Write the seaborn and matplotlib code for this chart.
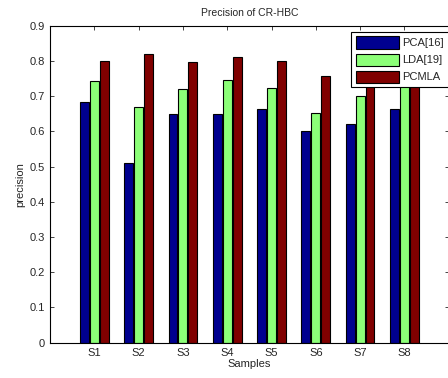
import pandas as pd
import numpy as np
import seaborn as sns
import matplotlib.pyplot as plt

samples = ['S1', 'S2', 'S3', 'S4', 'S5', 'S6', 'S7', 'S8']
pca = [0.682, 0.511, 0.650, 0.650, 0.664, 0.601, 0.622, 0.664]
lda = [0.743, 0.669, 0.721, 0.747, 0.722, 0.653, 0.700, 0.740]
pcmla = [0.800, 0.821, 0.797, 0.811, 0.800, 0.758, 0.780, 0.795]
methods = ['PCA[16]', 'LDA[19]', 'PCMLA']
colors = ['#00008F', '#8CFF78', '#800000']

data = pd.DataFrame({
    'Samples': samples * 3,
    'precision': pca + lda + pcmla,
    'method': [m for m in methods for _ in samples],
})

sns.set_style('white')
plt.rcParams['font.family'] = ['Liberation Sans', 'DejaVu Sans']

fig = plt.figure(figsize=(4.48, 3.78), dpi=100)
ax = fig.add_axes([0.1116, 0.0934, 0.89, 0.8386])

sns.barplot(data=data, x='Samples', y='precision', hue='method', palette=colors,
            saturation=1, width=0.67, edgecolor='black', linewidth=0.8, ax=ax)

# narrow each bar a little so there is a gap like the matlab bars
for p in ax.patches:
    w = p.get_width()
    if w > 0:
        c = p.get_x() + w / 2
        p.set_width(0.2)
        p.set_x(c - 0.1)

ax.set_xlim(-1, 8)
ax.set_ylim(0, 0.9)
ax.set_yticks(np.arange(0, 0.91, 0.1))
ax.set_yticklabels(['0'] + ['%.1f' % v for v in np.arange(0.1, 0.91, 0.1)])
ax.tick_params(direction='in', length=3, labelsize=8, top=True, right=True,
               left=True, bottom=True, width=0.6)
for s in ax.spines.values():
    s.set_color('black')
    s.set_linewidth(0.8)

ax.set_title('Precision of CR-HBC', fontsize=7.5, pad=7)
ax.set_xlabel('Samples', fontsize=8, labelpad=1)
ax.set_ylabel('precision', fontsize=8, labelpad=3)

leg = ax.legend(loc='upper right', bbox_to_anchor=(0.9995, 0.98), fontsize=8,
                frameon=True, fancybox=False, framealpha=1, edgecolor='black',
                handlelength=3.9, handleheight=1.3, labelspacing=0.45,
                handletextpad=0.3, borderpad=0.4, borderaxespad=0)
leg.get_frame().set_linewidth(0.8)

fig.savefig('out.png', dpi=100)
